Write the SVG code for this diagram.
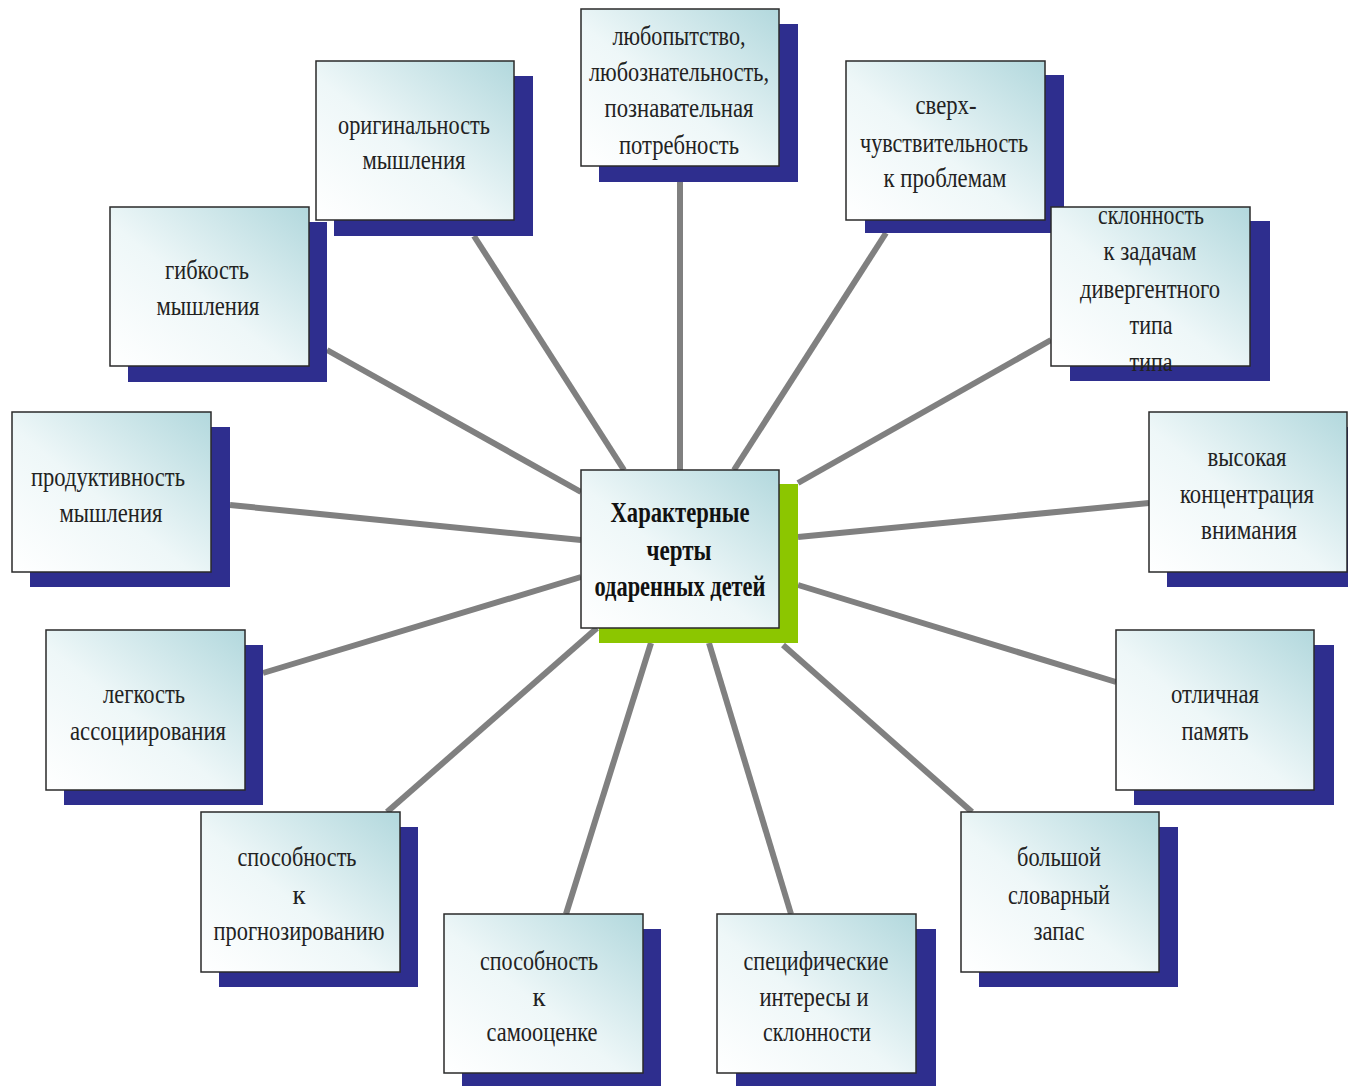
<svg xmlns="http://www.w3.org/2000/svg" width="1348" height="1086" viewBox="0 0 1348 1086">
<defs>
<linearGradient id="g" x1="0" y1="1" x2="1" y2="0">
<stop offset="0" stop-color="#ffffff"/>
<stop offset="0.45" stop-color="#eef7f8"/>
<stop offset="1" stop-color="#b2d8dd"/>
</linearGradient>
</defs>
<style>
.sh{fill:#2e2e8e}
.shg{fill:#8cc600}
.bx{fill:url(#g);stroke:#2a2a2a;stroke-width:1.5}
.t{font-family:"Liberation Serif",serif;font-size:28px;fill:#222;text-anchor:middle}
.tb{font-family:"Liberation Serif",serif;font-size:29px;font-weight:bold;fill:#111;text-anchor:middle}
.c{stroke:#808080;stroke-width:6;fill:none}
</style>
<rect width="1348" height="1086" fill="#ffffff"/>
<g id="connectors">
<line class="c" x1="680" y1="166" x2="680" y2="470"/>
<line class="c" x1="474" y1="236" x2="624" y2="470"/>
<line class="c" x1="886" y1="233" x2="734" y2="470"/>
<line class="c" x1="327" y1="350" x2="581" y2="492"/>
<line class="c" x1="1051" y1="340" x2="798" y2="483"/>
<line class="c" x1="230" y1="505" x2="581" y2="540"/>
<line class="c" x1="1149" y1="503" x2="798" y2="537"/>
<line class="c" x1="263" y1="673" x2="581" y2="577"/>
<line class="c" x1="1116" y1="682" x2="798" y2="585"/>
<line class="c" x1="387" y1="812" x2="597" y2="628"/>
<line class="c" x1="972" y1="812" x2="783" y2="645"/>
<line class="c" x1="566" y1="914" x2="651" y2="643"/>
<line class="c" x1="791" y1="914" x2="709" y2="643"/>
</g>
<g id="n-top">
<rect class="sh" x="599" y="24" width="199" height="158"/>
<rect class="bx" x="581" y="9" width="198" height="157"/>
<text class="t" x="679" y="45" textLength="133" lengthAdjust="spacingAndGlyphs">любопытство,</text>
<text class="t" x="679" y="81" textLength="180" lengthAdjust="spacingAndGlyphs">любознательность,</text>
<text class="t" x="679" y="117" textLength="149" lengthAdjust="spacingAndGlyphs">познавательная</text>
<text class="t" x="679" y="154" textLength="120" lengthAdjust="spacingAndGlyphs">потребность</text>
</g>
<g id="n-orig">
<rect class="sh" x="334" y="76" width="199" height="160"/>
<rect class="bx" x="316" y="61" width="198" height="159"/>
<text class="t" x="414" y="134" textLength="152" lengthAdjust="spacingAndGlyphs">оригинальность</text>
<text class="t" x="414" y="169" textLength="103" lengthAdjust="spacingAndGlyphs">мышления</text>
</g>
<g id="n-sverh">
<rect class="sh" x="865" y="75" width="199" height="158"/>
<rect class="bx" x="846" y="61" width="199" height="159"/>
<text class="t" x="946" y="114" textLength="61" lengthAdjust="spacingAndGlyphs">сверх-</text>
<text class="t" x="944" y="152" textLength="168" lengthAdjust="spacingAndGlyphs">чувствительность</text>
<text class="t" x="945" y="187" textLength="123" lengthAdjust="spacingAndGlyphs">к проблемам</text>
</g>
<g id="n-gib">
<rect class="sh" x="128" y="222" width="199" height="160"/>
<rect class="bx" x="110" y="207" width="199" height="159"/>
<text class="t" x="207" y="279" textLength="84" lengthAdjust="spacingAndGlyphs">гибкость</text>
<text class="t" x="208" y="315" textLength="103" lengthAdjust="spacingAndGlyphs">мышления</text>
</g>
<g id="n-sklon">
<rect class="sh" x="1070" y="221" width="200" height="160"/>
<rect class="bx" x="1051" y="207" width="199" height="159"/>
<text class="t" x="1151" y="224" textLength="106" lengthAdjust="spacingAndGlyphs">склонность</text>
<text class="t" x="1150" y="260" textLength="93" lengthAdjust="spacingAndGlyphs">к задачам</text>
<text class="t" x="1150" y="298" textLength="140" lengthAdjust="spacingAndGlyphs">дивергентного</text>
<text class="t" x="1151" y="334" textLength="43" lengthAdjust="spacingAndGlyphs">типа</text>
<text class="t" x="1151" y="371" textLength="43" lengthAdjust="spacingAndGlyphs">типа</text>
</g>
<g id="n-prod">
<rect class="sh" x="30" y="427" width="200" height="160"/>
<rect class="bx" x="12" y="412" width="199" height="160"/>
<text class="t" x="108" y="486" textLength="154" lengthAdjust="spacingAndGlyphs">продуктивность</text>
<text class="t" x="111" y="522" textLength="103" lengthAdjust="spacingAndGlyphs">мышления</text>
</g>
<g id="n-vys">
<rect class="sh" x="1167" y="427" width="190" height="160"/>
<rect class="bx" x="1149" y="412" width="198" height="160"/>
<text class="t" x="1247" y="466" textLength="79" lengthAdjust="spacingAndGlyphs">высокая</text>
<text class="t" x="1247" y="503" textLength="134" lengthAdjust="spacingAndGlyphs">концентрация</text>
<text class="t" x="1249" y="539" textLength="96" lengthAdjust="spacingAndGlyphs">внимания</text>
</g>
<g id="n-center">
<rect class="shg" x="599" y="484" width="199" height="159"/>
<rect class="bx" x="581" y="470" width="198" height="158"/>
<text class="tb" x="680" y="522" textLength="139" lengthAdjust="spacingAndGlyphs">Характерные</text>
<text class="tb" x="679" y="560" textLength="65" lengthAdjust="spacingAndGlyphs">черты</text>
<text class="tb" x="680" y="596" textLength="171" lengthAdjust="spacingAndGlyphs">одаренных детей</text>
</g>
<g id="n-leg">
<rect class="sh" x="64" y="645" width="199" height="160"/>
<rect class="bx" x="46" y="630" width="199" height="160"/>
<text class="t" x="144" y="703" textLength="82" lengthAdjust="spacingAndGlyphs">легкость</text>
<text class="t" x="148" y="740" textLength="156" lengthAdjust="spacingAndGlyphs">ассоциирования</text>
</g>
<g id="n-otl">
<rect class="sh" x="1134" y="645" width="200" height="160"/>
<rect class="bx" x="1116" y="630" width="198" height="160"/>
<text class="t" x="1215" y="703" textLength="88" lengthAdjust="spacingAndGlyphs">отличная</text>
<text class="t" x="1215" y="740" textLength="67" lengthAdjust="spacingAndGlyphs">память</text>
</g>
<g id="n-prog">
<rect class="sh" x="219" y="827" width="199" height="160"/>
<rect class="bx" x="201" y="812" width="199" height="160"/>
<text class="t" x="297" y="866" textLength="119" lengthAdjust="spacingAndGlyphs">способность</text>
<text class="t" x="299" y="904" textLength="13" lengthAdjust="spacingAndGlyphs">к</text>
<text class="t" x="299" y="940" textLength="171" lengthAdjust="spacingAndGlyphs">прогнозированию</text>
</g>
<g id="n-bol">
<rect class="sh" x="979" y="827" width="199" height="160"/>
<rect class="bx" x="961" y="812" width="198" height="160"/>
<text class="t" x="1059" y="866" textLength="84" lengthAdjust="spacingAndGlyphs">большой</text>
<text class="t" x="1059" y="904" textLength="102" lengthAdjust="spacingAndGlyphs">словарный</text>
<text class="t" x="1059" y="940" textLength="51" lengthAdjust="spacingAndGlyphs">запас</text>
</g>
<g id="n-samo">
<rect class="sh" x="462" y="929" width="199" height="160"/>
<rect class="bx" x="444" y="914" width="199" height="159"/>
<text class="t" x="539" y="970" textLength="118" lengthAdjust="spacingAndGlyphs">способность</text>
<text class="t" x="539" y="1006" textLength="13" lengthAdjust="spacingAndGlyphs">к</text>
<text class="t" x="542" y="1041" textLength="111" lengthAdjust="spacingAndGlyphs">самооценке</text>
</g>
<g id="n-spec">
<rect class="sh" x="736" y="929" width="200" height="160"/>
<rect class="bx" x="717" y="914" width="199" height="159"/>
<text class="t" x="816" y="970" textLength="145" lengthAdjust="spacingAndGlyphs">специфические</text>
<text class="t" x="814" y="1006" textLength="109" lengthAdjust="spacingAndGlyphs">интересы и</text>
<text class="t" x="817" y="1041" textLength="108" lengthAdjust="spacingAndGlyphs">склонности</text>
</g>
</svg>
